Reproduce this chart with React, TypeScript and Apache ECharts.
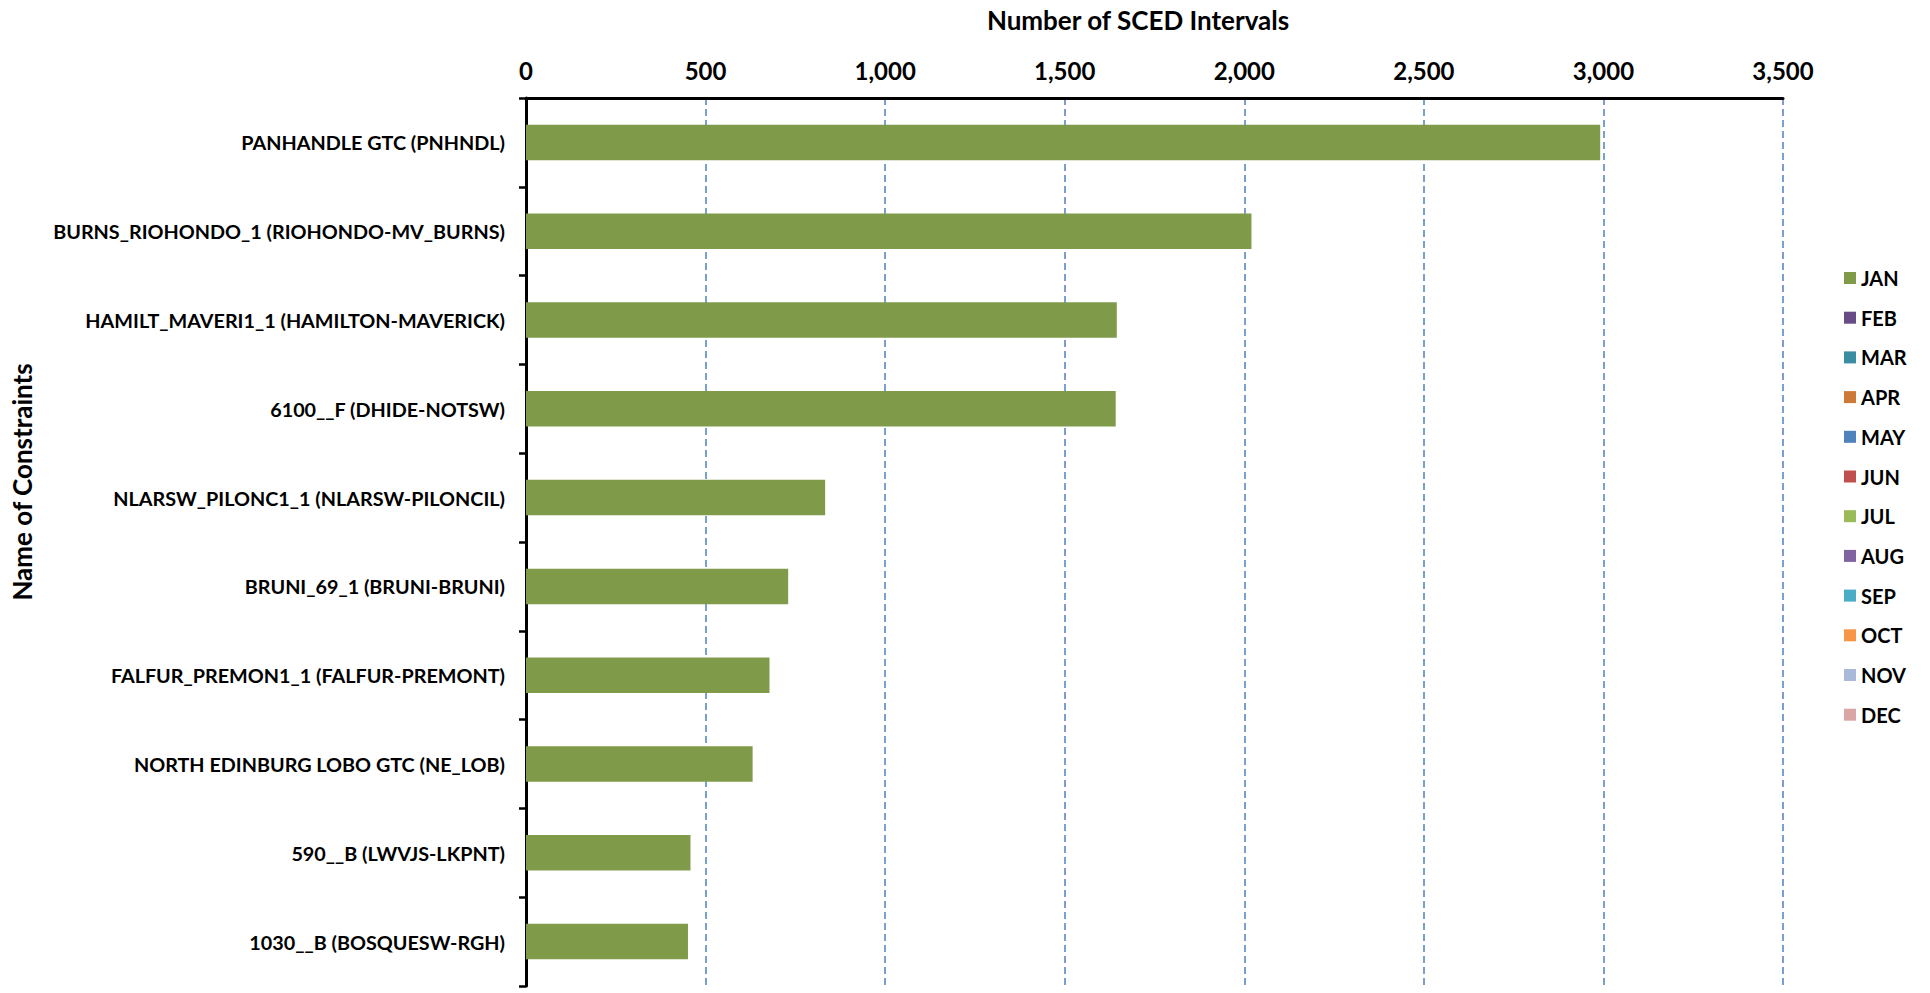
import React, { useEffect, useRef } from "react";
import * as echarts from "echarts";

const categories = [
  "PANHANDLE GTC (PNHNDL)",
  "BURNS_RIOHONDO_1 (RIOHONDO-MV_BURNS)",
  "HAMILT_MAVERI1_1 (HAMILTON-MAVERICK)",
  "6100__F (DHIDE-NOTSW)",
  "NLARSW_PILONC1_1 (NLARSW-PILONCIL)",
  "BRUNI_69_1 (BRUNI-BRUNI)",
  "FALFUR_PREMON1_1 (FALFUR-PREMONT)",
  "NORTH EDINBURG LOBO GTC (NE_LOB)",
  "590__B (LWVJS-LKPNT)",
  "1030__B (BOSQUESW-RGH)",
];

const janValues = [2991, 2020, 1645, 1642, 833, 730, 678, 631, 458, 451];

const months = ["JAN", "FEB", "MAR", "APR", "MAY", "JUN", "JUL", "AUG", "SEP", "OCT", "NOV", "DEC"];
const monthColors = [
  "#7F9B4A", "#674C86", "#3A8DA0", "#CD7A38", "#4F81BD", "#C0504D",
  "#9BBB59", "#8064A2", "#4BACC6", "#F79646", "#A9B9D8", "#D9A5A5",
];

const xTicks = { min: 0, max: 3500, interval: 500 };

const FONT = "Lato";

export default function App() {
  const ref = useRef<HTMLDivElement>(null);
  useEffect(() => {
    document.body.style.margin = "0";
    const chart = echarts.init(ref.current!, undefined, { renderer: "svg" });
    const series = months.map((m, i) => ({
      name: m,
      type: "bar" as const,
      stack: "total",
      barWidth: "40%",
      itemStyle: { color: monthColors[i] },
      data: i === 0 ? janValues : categories.map(() => null),
    }));
    chart.setOption({
      animation: false,
      backgroundColor: "#ffffff",
      textStyle: { fontFamily: FONT },
      grid: { left: 526, right: 147, top: 98, bottom: 7, containLabel: false },
      xAxis: {
        type: "value",
        position: "top",
        min: xTicks.min,
        max: xTicks.max,
        interval: xTicks.interval,
        axisLine: { show: true, lineStyle: { color: "#000", width: 3 } },
        axisTick: { show: false },
        axisLabel: {
          color: "#000",
          fontFamily: FONT,
          fontWeight: "bold",
          fontSize: 24,
          margin: 16,
          formatter: (v: number) => v.toLocaleString("en-US"),
        },
        splitLine: {
          show: true,
          lineStyle: { color: "#4F81BD", width: 1.5, type: [7, 4] },
        },
      },
      yAxis: {
        type: "category",
        inverse: true,
        data: categories,
        axisLine: { show: true, lineStyle: { color: "#000", width: 3 } },
        axisTick: { show: true, inside: false, length: 7, lineStyle: { color: "#000", width: 2.5 } },
        axisLabel: {
          color: "#000",
          fontFamily: FONT,
          fontWeight: "bold",
          fontSize: 19.8,
          margin: 21,
        },
        splitLine: { show: false },
      },
      legend: {
        orient: "vertical",
        left: 1844,
        top: 268,
        padding: 0,
        itemWidth: 12,
        itemHeight: 12,
        itemGap: 19.7,
        icon: "rect",
        data: months,
        textStyle: {
          color: "#000",
          fontFamily: FONT,
          fontWeight: "bold",
          fontSize: 20,
          lineHeight: 20,
        },
      },
      graphic: [
        {
          type: "text",
          x: 1138,
          y: 20,
          style: {
            text: "Number of SCED Intervals",
            fill: "#000",
            font: `bold 26px ${FONT}`,
            textAlign: "center",
            textVerticalAlign: "middle",
          },
        },
        {
          type: "text",
          x: 22,
          y: 482,
          rotation: Math.PI / 2,
          style: {
            text: "Name of Constraints",
            fill: "#000",
            font: `bold 26px ${FONT}`,
            textAlign: "center",
            textVerticalAlign: "middle",
          },
        },
      ],
      series,
    });
    return () => chart.dispose();
  }, []);
  return <div ref={ref} style={{ width: 1930, height: 993 }} />;
}
